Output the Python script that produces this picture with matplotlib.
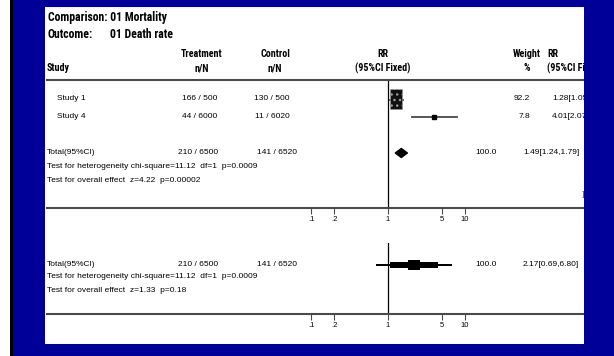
import matplotlib
matplotlib.use("Agg")
import matplotlib.pyplot as plt
import matplotlib.font_manager as fm
from matplotlib.patches import Rectangle, Polygon
import numpy as np

plt.rcParams['font.family'] = ['Liberation Sans', 'DejaVu Sans']

# narrow face for the bold headings (falls back to Liberation Sans)
_names = {f.name for f in fm.fontManager.ttflist}
_pref = ["Liberation Sans Narrow", "Arial Narrow", "Roboto Condensed",
         "Noto Sans Condensed", "Open Sans Condensed", "DejaVu Sans Condensed"]
_narrow = [n for n in _pref if n in _names] or \
    sorted(n for n in _names if "Narrow" in n or "Condensed" in n)
head_family = _narrow[:1] + ['Liberation Sans', 'DejaVu Sans']

# ---------------- data ----------------
studies = ["Study 1", "Study 4"]
treat_n = [166, 44]
treat_N = [500, 6000]
ctrl_n = [130, 11]
ctrl_N = [500, 6020]
weights = [92.2, 7.8]
rr = [1.28, 4.01]
rr_lo = [1.05, 2.07]
rr_hi = [1.55, 7.76]

total_treat = (210, 6500)
total_ctrl = (141, 6520)
fixed_rr, fixed_lo, fixed_hi = 1.49, 1.24, 1.79
het_chi2, het_df, het_p = 11.12, 1, "0.0009"
fixed_z, fixed_p = 4.22, "0.00002"
random_rr, random_lo, random_hi = 2.17, 0.69, 6.80
random_z, random_p = 1.33, "0.18"

tick_vals = [0.1, 0.2, 1, 5, 10]
tick_labels = [".1", ".2", "1", "5", "10"]

# ---------------- layout (pixels) ----------------
W, H = 614, 356
BLUE = "#000099"
GREY = "#4a4a4a"
px1 = 388          # pixel of RR = 1
ppd = 77           # pixels per decade
left_px, right_px = 47, 583

fig = plt.figure(figsize=(W / 100, H / 100), dpi=100)
fig.patch.set_facecolor(BLUE)

bg = fig.add_axes([0, 0, 1, 1])
bg.set_xlim(0, W)
bg.set_ylim(H, 0)
bg.axis("off")
bg.add_patch(Rectangle((0, 0), 10, H, color="white", lw=0))
bg.add_patch(Rectangle((10, 0), 3, H, color="black", lw=0))
bg.add_patch(Rectangle((45, 7), 539, 337, color="white", lw=0))


def fit_size(s, target_px, base=8):
    # font size that gives a bold heading the width it has in the source
    t = bg.text(0, 0, s, fontsize=base, fontweight="bold", family=head_family)
    fig.canvas.draw()
    w = t.get_window_extent().width
    t.remove()
    return base * target_px / w


title_fs = min(9.5, fit_size("Comparison: 01 Mortality", 119))
head_fs = min(7.5, fit_size("(95%CI Fixed)", 55))
body_fs = 6


def fax(top, bottom, top_spine):
    ax = fig.add_axes([left_px / W, 1 - bottom / H,
                       (right_px - left_px) / W, (bottom - top) / H])
    ax.set_xscale("log")
    ax.set_xlim(10 ** ((left_px - px1) / ppd), 10 ** ((right_px - px1) / ppd))
    ax.set_ylim(bottom, top)
    ax.patch.set_alpha(0)
    for s in ["left", "right"]:
        ax.spines[s].set_visible(False)
    ax.spines["top"].set_visible(top_spine)
    for s in ["top", "bottom"]:
        ax.spines[s].set_color(GREY)
        ax.spines[s].set_linewidth(1.5)
    ax.set_yticks([])
    ax.set_xticks(tick_vals)
    ax.set_xticklabels(tick_labels)
    ax.minorticks_off()
    ax.tick_params(axis="x", direction="out", length=4, width=0.8, color=GREY,
                   labelsize=5.5, pad=1.5)
    ax.axvline(1, color="black", lw=0.9)
    return ax


top_ax = fax(80, 208, True)
bot_ax = fax(243, 314, False)

# ---------------- header text ----------------
tk = dict(color="black", va="center", fontsize=title_fs, fontweight="bold",
          family=head_family)
bg.text(48, 17, "Comparison: 01 Mortality", **tk)
bg.text(48, 34, "Outcome:", **tk)
bg.text(110, 34, "01 Death rate", **tk)

hk = dict(fontsize=head_fs, fontweight="bold", va="center", family=head_family)
bg.text(202, 54, "Treatment", ha="center", **hk)
bg.text(202, 68, "n/N", ha="center", **hk)
bg.text(275, 54, "Control", ha="center", **hk)
bg.text(275, 68, "n/N", ha="center", **hk)
bg.text(383, 54, "RR", ha="center", **hk)
bg.text(383, 68, "(95%CI Fixed)", ha="center", **hk)
bg.text(527, 54, "Weight", ha="center", **hk)
bg.text(527, 68, "%", ha="center", **hk)
bg.text(47, 68, "Study", **hk)
bg.text(547, 54, "RR", **hk)
bg.text(547, 68, "(95%CI Fixed)", **hk)

# ---------------- study rows ----------------
bk = dict(fontsize=body_fs, va="center")
row_y = [98, 117]
for i, y in enumerate(row_y):
    bg.text(57, y, studies[i], **bk)
    bg.text(217, y, f"{treat_n[i]} / {treat_N[i]}", ha="right", **bk)
    bg.text(290, y, f"{ctrl_n[i]} / {ctrl_N[i]}", ha="right", **bk)
    bg.text(530, y, f"{weights[i]:.1f}", ha="right", **bk)
    bg.text(552, y, f"{rr[i]:.2f}[{rr_lo[i]:.2f},{rr_hi[i]:.2f}]", **bk)

# study 1: big patterned box
top_ax.plot([rr_lo[0], rr_hi[0]], [100, 100], color=GREY, lw=1.3, zorder=2)
hw = 10 ** (6 / ppd)
top_ax.add_patch(Rectangle((rr[0] / hw, 89), rr[0] * hw - rr[0] / hw, 20,
                           facecolor="#111111", edgecolor="#9a9a9a", hatch="...",
                           lw=0.4, zorder=3))
# study 4: small point
top_ax.plot([rr_lo[1], rr_hi[1]], [row_y[1], row_y[1]], color=GREY, lw=1.3, zorder=2)
top_ax.plot([rr[1]], [row_y[1]], marker="s", ms=3, color="black", zorder=3)

# ---------------- fixed total ----------------
het_txt = f"Test for heterogeneity chi-square={het_chi2:.2f}  df={het_df}  p={het_p}"
tot_y = 153
bg.text(47, tot_y, "Total(95%CI)", **bk)
bg.text(218, tot_y, f"{total_treat[0]} / {total_treat[1]}", ha="right", **bk)
bg.text(297, tot_y, f"{total_ctrl[0]} / {total_ctrl[1]}", ha="right", **bk)
bg.text(497, tot_y, "100.0", ha="right", **bk)
bg.text(523, tot_y, f"{fixed_rr:.2f}[{fixed_lo:.2f},{fixed_hi:.2f}]", **bk)
bg.text(47, 166, het_txt, **bk)
bg.text(47, 180, f"Test for overall effect  z={fixed_z:.2f}  p={fixed_p}", **bk)
top_ax.add_patch(Polygon([(fixed_lo, tot_y), (fixed_rr, tot_y - 4.5),
                          (fixed_hi, tot_y), (fixed_rr, tot_y + 4.5)],
                         closed=True, color="black", zorder=3))
bg.text(582, 194, "]", fontsize=body_fs, color=GREY, va="center")

# ---------------- random total ----------------
r_y = 265
bg.text(47, r_y, "Total(95%CI)", **bk)
bg.text(218, r_y, f"{total_treat[0]} / {total_treat[1]}", ha="right", **bk)
bg.text(297, r_y, f"{total_ctrl[0]} / {total_ctrl[1]}", ha="right", **bk)
bg.text(497, r_y, "100.0", ha="right", **bk)
bg.text(523, r_y, f"{random_rr:.2f}[{random_lo:.2f},{random_hi:.2f}]", **bk)
bg.text(47, 277, het_txt, **bk)
bg.text(47, 290, f"Test for overall effect  z={random_z:.2f}  p={random_p}", **bk)

# stepped diamond: (fraction of half-width, height in px)
steps = [(1.0, 2), (0.62, 6), (0.15, 10)]
lc = np.log10(random_rr)
dl = lc - np.log10(random_lo)
dh = np.log10(random_hi) - lc
for f, h in steps:
    a = 10 ** (lc - f * dl)
    b = 10 ** (lc + f * dh)
    bot_ax.add_patch(Rectangle((a, r_y - h / 2), b - a, h, color="black", lw=0, zorder=3))

# blue frame over the clipped right side
bg.add_patch(Rectangle((584, 0), W - 584, H, color=BLUE, lw=0, zorder=10))

fig.savefig("out.png", dpi=100, facecolor=BLUE)
